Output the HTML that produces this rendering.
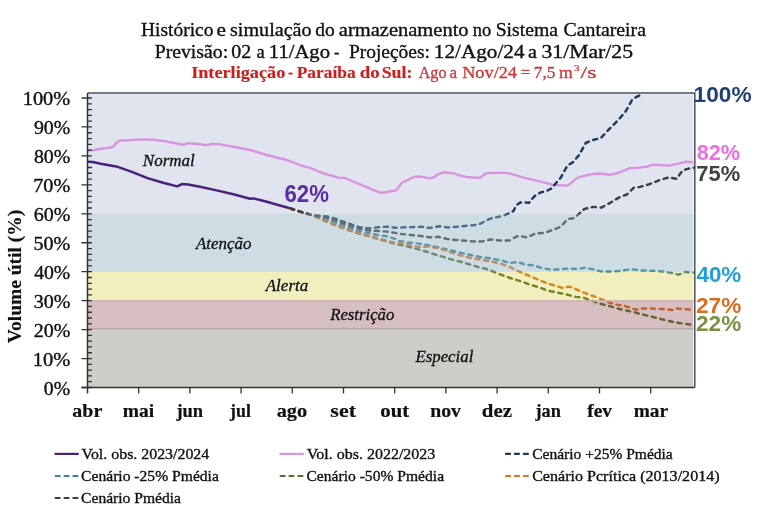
<!DOCTYPE html>
<html><head><meta charset="utf-8"><style>
html,body{margin:0;padding:0;background:#fff;}
svg{display:block;}
.s{font-family:"Liberation Serif",serif;}
.a{font-family:"Liberation Sans",sans-serif;font-weight:bold;}
</style></head><body>
<svg width="768" height="509" viewBox="0 0 768 509">
<rect x="0" y="0" width="768" height="509" fill="#fff"/>
<rect x="87.5" y="94.2" width="605.8" height="119.49999999999999" fill="#dfe4ee"/>
<polyline points="88.1,150.5 94.4,150.0 100.6,148.8 106.9,148.1 113.1,146.9 116.2,143.0 119.4,140.6 128.8,140.2 141.2,139.4 153.8,139.7 166.2,141.4 178.8,144.0 183.4,144.8 188.1,143.2 194.4,143.7 200.0,144.3 206.7,145.2 211.7,144.0 218.4,144.1 233.4,146.7 250.1,150.0 266.8,155.0 286.8,160.0 300.2,165.1 310.0,167.9 318.6,171.5 327.2,174.6 332.9,175.8 338.7,177.9 344.4,177.9 353.0,181.5 364.4,186.1 373.0,189.8 380.2,192.7 385.9,192.3 390.2,191.3 396.0,190.4 401.7,183.0 408.9,179.4 414.3,176.9 420.0,176.5 424.3,177.2 430.1,178.4 434.4,177.2 437.2,174.6 444.4,172.2 453.0,173.2 458.7,175.1 465.9,176.9 473.0,177.5 480.2,177.9 485.9,173.2 493.1,172.9 504.6,172.9 510.3,173.6 523.5,177.6 542.2,181.8 552.3,184.9 567.5,185.6 577.7,177.6 591.2,174.2 600.0,173.5 609.8,174.8 619.6,172.5 629.5,168.2 639.3,167.6 647.2,166.6 653.0,164.6 658.9,165.0 668.8,165.6 678.6,163.6 686.4,161.7 693.3,162.3" fill="none" stroke="#d994df" stroke-width="2.4" stroke-linejoin="round"/>
<polyline points="88.1,161.7 92.8,162.0 100.6,163.8 116.2,166.4 131.9,171.9 147.5,178.1 163.1,182.8 177.2,186.4 181.9,184.1 188.1,184.4 200.0,186.8 216.7,190.4 233.4,194.3 250.1,198.8 253.4,198.4 266.8,201.8 283.5,206.5 289.2,208.0" fill="none" stroke="#47237f" stroke-width="2.5" stroke-linejoin="round"/>
<polyline points="290.1,208.2 292.0,209.0 301.0,211.9 309.5,214.5 313.0,215.4 318.0,215.7 327.0,216.4 335.0,218.5 343.5,221.7 352.0,224.7 360.0,227.3 369.0,228.4 378.0,227.2 387.0,226.7 395.0,227.7 404.0,227.4 410.6,227.1 421.2,226.8 430.0,228.0 438.9,226.2 447.7,227.5 456.6,226.8 467.2,225.7 476.0,225.0 480.0,223.8 484.2,221.7 490.4,218.5 497.7,217.0 504.0,215.4 509.2,213.3 513.3,211.2 516.5,205.0 520.6,202.4 524.8,202.4 529.0,202.9 532.1,198.8 535.2,195.6 540.4,192.5 546.7,190.9 551.9,188.3 555.0,184.2 560.8,177.6 567.3,165.7 572.7,162.4 579.2,154.9 585.7,143.0 592.2,140.2 600.8,138.0 607.3,131.1 613.8,124.6 619.6,118.5 625.5,111.6 629.2,105.3 632.2,99.6 636.5,96.9 642.6,94.0" fill="none" stroke="#1f3a60" stroke-width="2.45" stroke-dasharray="4.15 4.65" stroke-linecap="round" stroke-linejoin="round"/>
<polyline points="290.1,208.2 292.0,209.0 301.0,211.9 309.5,214.5 313.0,215.4 318.0,216.9 327.0,219.8 335.0,222.6 343.5,225.8 352.0,228.8 360.0,231.4 369.0,233.1 378.0,235.2 387.0,236.3 395.0,238.9 400.0,241.3 410.6,242.7 421.2,243.9 435.3,246.6 446.0,249.2 456.6,251.9 470.7,255.0 481.3,257.2 491.9,258.6 502.5,260.7 510.0,263.1 517.9,262.0 525.7,264.7 533.6,265.4 541.4,267.8 549.3,269.4 558.7,269.4 566.6,268.6 576.0,268.9 585.5,267.8 593.3,269.4 601.2,271.4 609.4,271.5 618.9,271.0 631.4,269.2 640.9,270.4 651.9,270.7 662.9,271.5 672.3,273.1 678.6,274.7 684.9,272.0 693.6,272.6" fill="none" stroke="#31859c" stroke-width="2.45" stroke-dasharray="4.15 4.65" stroke-linecap="round" stroke-linejoin="round"/>
<polyline points="290.1,208.2 292.0,209.0 301.0,211.9 309.5,214.5 313.0,215.4 318.0,217.7 327.0,221.8 335.0,225.1 343.5,228.3 352.0,231.3 360.0,233.9 369.0,236.2 378.0,239.0 387.0,241.5 395.0,243.8 404.0,245.6 410.6,247.4 421.2,250.1 435.3,254.5 449.5,258.9 463.6,262.5 477.8,266.9 488.4,269.5 499.0,274.0 510.0,278.0 519.4,280.8 528.9,284.3 538.3,287.1 547.7,290.6 557.2,292.5 566.6,294.5 576.0,296.9 583.9,297.7 591.8,300.8 601.2,304.0 609.4,306.1 620.4,309.2 631.4,311.6 642.5,314.4 653.5,317.1 662.9,319.5 672.3,321.8 681.8,323.4 693.6,325.0" fill="none" stroke="#5a6d2c" stroke-width="2.45" stroke-dasharray="4.15 4.65" stroke-linecap="round" stroke-linejoin="round"/>
<polyline points="290.1,208.2 292.0,209.0 301.0,211.9 309.5,214.5 313.0,215.4 318.0,217.5 327.0,221.4 335.0,224.6 343.5,227.8 352.0,230.8 360.0,233.4 369.0,235.7 378.0,238.3 387.0,240.9 395.0,243.0 404.0,242.5 410.6,245.7 417.7,246.9 428.3,246.6 438.9,248.3 449.5,251.9 460.1,255.4 470.7,258.0 481.3,259.8 491.9,261.6 502.5,264.2 511.6,267.8 519.4,271.7 528.9,275.7 538.3,279.6 547.7,283.5 557.2,286.2 561.9,287.8 569.7,286.7 579.2,290.6 588.6,294.5 598.1,297.7 606.3,301.4 615.7,304.5 625.2,306.1 636.2,309.7 642.5,308.5 651.9,308.5 659.7,308.9 666.0,309.2 672.3,310.0 677.0,308.5 684.9,309.2 693.6,310.0" fill="none" stroke="#e07020" stroke-width="2.45" stroke-dasharray="4.15 4.65" stroke-linecap="round" stroke-linejoin="round"/>
<polyline points="290.1,208.2 292.0,209.0 301.0,211.9 309.5,214.5 313.0,215.4 318.0,216.3 327.0,217.9 335.0,220.3 343.5,223.5 352.0,226.5 360.0,229.1 369.0,230.5 378.0,231.0 387.0,231.6 395.0,232.9 400.0,233.8 410.6,235.0 421.2,236.0 430.0,237.4 438.9,236.8 447.7,239.1 456.6,240.0 467.2,240.9 476.0,241.6 483.0,241.3 490.1,239.5 499.0,240.4 509.6,240.4 514.9,237.4 518.5,235.7 526.9,237.4 535.4,233.5 543.9,233.0 552.3,230.1 560.8,226.7 567.5,219.1 574.3,218.2 584.5,208.9 592.9,206.9 601.4,207.6 609.9,203.0 618.3,197.9 626.8,194.5 633.6,187.8 640.0,186.9 649.1,184.3 658.9,180.3 668.8,177.4 676.6,178.8 682.5,170.5 688.4,168.6 694.3,167.6" fill="none" stroke="#3d3d3d" stroke-width="2.45" stroke-dasharray="4.15 4.65" stroke-linecap="round" stroke-linejoin="round"/>
<rect x="87.5" y="213.7" width="605.8" height="58.10000000000002" fill="rgb(142,177,192)" fill-opacity="0.44"/>
<rect x="87.5" y="271.8" width="605.8" height="28.19999999999999" fill="rgb(203,191,0)" fill-opacity="0.25"/>
<rect x="87.5" y="300.0" width="605.8" height="29.69999999999999" fill="rgb(140,69,75)" fill-opacity="0.35"/>
<rect x="87.5" y="329.7" width="605.8" height="57.80000000000001" fill="#cfcdc8"/>
<line x1="87.5" y1="328.8" x2="693.3" y2="328.8" stroke="#b6a8a8" stroke-width="1.6"/>
<line x1="87.5" y1="301.0" x2="693.3" y2="301.0" stroke="#cdb5b3" stroke-width="1.6"/>
<path d="M87.5,93.0 H694.8 V387.5" fill="none" stroke="#4b5058" stroke-width="1.5"/>
<path d="M87.5,93.0 V393.5 M81.5,387.5 H694.8" fill="none" stroke="#333" stroke-width="1.5"/>
<path d="M81.5,387.50 H92.0 M87.5,381.71 H92.0 M87.5,375.92 H92.0 M87.5,370.13 H92.0 M87.5,364.34 H92.0 M81.5,358.55 H92.0 M87.5,352.76 H92.0 M87.5,346.97 H92.0 M87.5,341.18 H92.0 M87.5,335.39 H92.0 M81.5,329.60 H92.0 M87.5,323.81 H92.0 M87.5,318.02 H92.0 M87.5,312.23 H92.0 M87.5,306.44 H92.0 M81.5,300.65 H92.0 M87.5,294.86 H92.0 M87.5,289.07 H92.0 M87.5,283.28 H92.0 M87.5,277.49 H92.0 M81.5,271.70 H92.0 M87.5,265.91 H92.0 M87.5,260.12 H92.0 M87.5,254.33 H92.0 M87.5,248.54 H92.0 M81.5,242.75 H92.0 M87.5,236.96 H92.0 M87.5,231.17 H92.0 M87.5,225.38 H92.0 M87.5,219.59 H92.0 M81.5,213.80 H92.0 M87.5,208.01 H92.0 M87.5,202.22 H92.0 M87.5,196.43 H92.0 M87.5,190.64 H92.0 M81.5,184.85 H92.0 M87.5,179.06 H92.0 M87.5,173.27 H92.0 M87.5,167.48 H92.0 M87.5,161.69 H92.0 M81.5,155.90 H92.0 M87.5,150.11 H92.0 M87.5,144.32 H92.0 M87.5,138.53 H92.0 M87.5,132.74 H92.0 M81.5,126.95 H92.0 M87.5,121.16 H92.0 M87.5,115.37 H92.0 M87.5,109.58 H92.0 M87.5,103.79 H92.0 M81.5,98.00 H92.0 M138.70,387.5 V393.5 M189.90,387.5 V393.5 M241.10,387.5 V393.5 M292.30,387.5 V393.5 M343.50,387.5 V393.5 M394.70,387.5 V393.5 M445.90,387.5 V393.5 M497.10,387.5 V393.5 M548.30,387.5 V393.5 M599.50,387.5 V393.5 M650.70,387.5 V393.5" fill="none" stroke="#333" stroke-width="1.3"/>
<line x1="54.5" y1="453.9" x2="78.8" y2="453.9" stroke="#47237f" stroke-width="2.2"/>
<line x1="279.5" y1="453.9" x2="303.8" y2="453.9" stroke="#d994df" stroke-width="2.2"/>
<line x1="506.0" y1="453.9" x2="528.9" y2="453.9" stroke="#1f3a60" stroke-width="2.2" stroke-linecap="round" stroke-dasharray="4.1 4.8"/>
<line x1="55.6" y1="476" x2="78.5" y2="476" stroke="#31859c" stroke-width="2.2" stroke-linecap="round" stroke-dasharray="4.1 4.8"/>
<line x1="280.6" y1="476" x2="303.5" y2="476" stroke="#5a6d2c" stroke-width="2.2" stroke-linecap="round" stroke-dasharray="4.1 4.8"/>
<line x1="506.0" y1="476" x2="528.9" y2="476" stroke="#e07020" stroke-width="2.2" stroke-linecap="round" stroke-dasharray="4.1 4.8"/>
<line x1="55.6" y1="498" x2="78.5" y2="498" stroke="#3d3d3d" stroke-width="2.2" stroke-linecap="round" stroke-dasharray="4.1 4.8"/>
<text x="140.99" y="36.2" class="s" font-size="19" fill="#111"  stroke="#111" stroke-width="0.35" textLength="72.44" lengthAdjust="spacingAndGlyphs">Histórico</text>
<text x="216.41" y="36.2" class="s" font-size="19" fill="#111"  stroke="#111" stroke-width="0.35" textLength="9.40" lengthAdjust="spacingAndGlyphs">e</text>
<text x="230.05" y="36.2" class="s" font-size="19" fill="#111"  stroke="#111" stroke-width="0.35" textLength="81.51" lengthAdjust="spacingAndGlyphs">simulação</text>
<text x="315.39" y="36.2" class="s" font-size="19" fill="#111"  stroke="#111" stroke-width="0.35" textLength="19.43" lengthAdjust="spacingAndGlyphs">do</text>
<text x="338.85" y="36.2" class="s" font-size="19" fill="#111"  stroke="#111" stroke-width="0.35" textLength="129.76" lengthAdjust="spacingAndGlyphs">armazenamento</text>
<text x="472.81" y="36.2" class="s" font-size="19" fill="#111"  stroke="#111" stroke-width="0.35" textLength="18.47" lengthAdjust="spacingAndGlyphs">no</text>
<text x="495.66" y="36.2" class="s" font-size="19" fill="#111"  stroke="#111" stroke-width="0.35" textLength="62.31" lengthAdjust="spacingAndGlyphs">Sistema</text>
<text x="563.57" y="36.2" class="s" font-size="19" fill="#111"  stroke="#111" stroke-width="0.35" textLength="82.36" lengthAdjust="spacingAndGlyphs">Cantareira</text>
<text x="154.68" y="57.7" class="s" font-size="19" fill="#111"  stroke="#111" stroke-width="0.35" textLength="73.50" lengthAdjust="spacingAndGlyphs">Previsão:</text>
<text x="231.26" y="57.7" class="s" font-size="19" fill="#111"  stroke="#111" stroke-width="0.35" textLength="19.99" lengthAdjust="spacingAndGlyphs">02</text>
<text x="256.42" y="57.7" class="s" font-size="19" fill="#111"  stroke="#111" stroke-width="0.35" textLength="8.21" lengthAdjust="spacingAndGlyphs">a</text>
<text x="268.86" y="57.7" class="s" font-size="19" fill="#111"  stroke="#111" stroke-width="0.35" textLength="61.09" lengthAdjust="spacingAndGlyphs">11/Ago</text>
<text x="334.12" y="57.7" class="s" font-size="19" fill="#111"  stroke="#111" stroke-width="0.35" textLength="5.41" lengthAdjust="spacingAndGlyphs">-</text>
<text x="348.99" y="57.7" class="s" font-size="19" fill="#111"  stroke="#111" stroke-width="0.35" textLength="80.89" lengthAdjust="spacingAndGlyphs">Projeções:</text>
<text x="433.81" y="57.7" class="s" font-size="19" fill="#111"  stroke="#111" stroke-width="0.35" textLength="90.80" lengthAdjust="spacingAndGlyphs">12/Ago/24</text>
<text x="527.97" y="57.7" class="s" font-size="19" fill="#111"  stroke="#111" stroke-width="0.35" textLength="8.88" lengthAdjust="spacingAndGlyphs">a</text>
<text x="541.46" y="57.7" class="s" font-size="19" fill="#111"  stroke="#111" stroke-width="0.35" textLength="91.57" lengthAdjust="spacingAndGlyphs">31/Mar/25</text>
<text x="191.16" y="77.6" class="s" font-size="17" fill="#d01c1c" font-weight="bold" stroke="#d01c1c" stroke-width="0.15" textLength="94.10" lengthAdjust="spacingAndGlyphs">Interligação</text>
<text x="287.97" y="77.6" class="s" font-size="17" fill="#d01c1c" font-weight="bold" stroke="#d01c1c" stroke-width="0.15" textLength="5.02" lengthAdjust="spacingAndGlyphs">-</text>
<text x="296.70" y="77.6" class="s" font-size="17" fill="#d01c1c" font-weight="bold" stroke="#d01c1c" stroke-width="0.15" textLength="59.02" lengthAdjust="spacingAndGlyphs">Paraíba</text>
<text x="359.83" y="77.6" class="s" font-size="17" fill="#d01c1c" font-weight="bold" stroke="#d01c1c" stroke-width="0.15" textLength="20.01" lengthAdjust="spacingAndGlyphs">do</text>
<text x="381.65" y="77.6" class="s" font-size="17" fill="#d01c1c" font-weight="bold" stroke="#d01c1c" stroke-width="0.15" textLength="30.71" lengthAdjust="spacingAndGlyphs">Sul:</text>
<text x="418.71" y="77.6" class="s" font-size="17" fill="#d03434"  stroke="#d03434" stroke-width="0.3" textLength="27.83" lengthAdjust="spacingAndGlyphs">Ago</text>
<text x="449.50" y="77.6" class="s" font-size="17" fill="#d03434"  stroke="#d03434" stroke-width="0.3" textLength="7.55" lengthAdjust="spacingAndGlyphs">a</text>
<text x="462.17" y="77.6" class="s" font-size="17" fill="#d03434"  stroke="#d03434" stroke-width="0.3" textLength="54.85" lengthAdjust="spacingAndGlyphs">Nov/24</text>
<text x="520.72" y="77.6" class="s" font-size="17" fill="#d03434"  stroke="#d03434" stroke-width="0.3" textLength="9.35" lengthAdjust="spacingAndGlyphs">=</text>
<text x="533.78" y="77.6" class="s" font-size="17" fill="#d03434"  stroke="#d03434" stroke-width="0.3" textLength="21.58" lengthAdjust="spacingAndGlyphs">7,5</text>
<text x="559.08" y="77.6" class="s" font-size="17" fill="#d03434"  stroke="#d03434" stroke-width="0.3" textLength="13.75" lengthAdjust="spacingAndGlyphs">m</text>
<text x="580.60" y="77.6" class="s" font-size="17" fill="#d03434"  stroke="#d03434" stroke-width="0.3" textLength="15.94" lengthAdjust="spacingAndGlyphs">/s</text>
<text x="574.11" y="70.8" class="s" font-size="9" fill="#d03434"  stroke="#d03434" stroke-width="0.2" textLength="5.57" lengthAdjust="spacingAndGlyphs">3</text>
<text x="142.80" y="165.9" class="s" font-size="17" fill="#111" font-style="italic" stroke="#111" stroke-width="0.3" textLength="51.96" lengthAdjust="spacingAndGlyphs">Normal</text>
<text x="195.99" y="249.4" class="s" font-size="17" fill="#111" font-style="italic" stroke="#111" stroke-width="0.3" textLength="55.40" lengthAdjust="spacingAndGlyphs">Atenção</text>
<text x="265.70" y="290.6" class="s" font-size="17" fill="#111" font-style="italic" stroke="#111" stroke-width="0.3" textLength="42.69" lengthAdjust="spacingAndGlyphs">Alerta</text>
<text x="330.20" y="319.7" class="s" font-size="17" fill="#111" font-style="italic" stroke="#111" stroke-width="0.3" textLength="64.14" lengthAdjust="spacingAndGlyphs">Restrição</text>
<text x="415.40" y="362.3" class="s" font-size="17" fill="#111" font-style="italic" stroke="#111" stroke-width="0.3" textLength="57.94" lengthAdjust="spacingAndGlyphs">Especial</text>
<text x="43.83" y="394.9" class="s" font-size="17.8" fill="#111"  stroke="#111" stroke-width="0.35" textLength="26.35" lengthAdjust="spacingAndGlyphs">0%</text>
<text x="32.76" y="365.95" class="s" font-size="17.8" fill="#111"  stroke="#111" stroke-width="0.35" textLength="37.57" lengthAdjust="spacingAndGlyphs">10%</text>
<text x="33.70" y="337.0" class="s" font-size="17.8" fill="#111"  stroke="#111" stroke-width="0.35" textLength="36.60" lengthAdjust="spacingAndGlyphs">20%</text>
<text x="33.70" y="308.04999999999995" class="s" font-size="17.8" fill="#111"  stroke="#111" stroke-width="0.35" textLength="36.60" lengthAdjust="spacingAndGlyphs">30%</text>
<text x="34.16" y="279.09999999999997" class="s" font-size="17.8" fill="#111"  stroke="#111" stroke-width="0.35" textLength="36.14" lengthAdjust="spacingAndGlyphs">40%</text>
<text x="33.47" y="250.15" class="s" font-size="17.8" fill="#111"  stroke="#111" stroke-width="0.35" textLength="36.84" lengthAdjust="spacingAndGlyphs">50%</text>
<text x="33.70" y="221.20000000000002" class="s" font-size="17.8" fill="#111"  stroke="#111" stroke-width="0.35" textLength="36.60" lengthAdjust="spacingAndGlyphs">60%</text>
<text x="33.24" y="192.25" class="s" font-size="17.8" fill="#111"  stroke="#111" stroke-width="0.35" textLength="37.08" lengthAdjust="spacingAndGlyphs">70%</text>
<text x="33.93" y="163.3" class="s" font-size="17.8" fill="#111"  stroke="#111" stroke-width="0.35" textLength="36.37" lengthAdjust="spacingAndGlyphs">80%</text>
<text x="33.93" y="134.35" class="s" font-size="17.8" fill="#111"  stroke="#111" stroke-width="0.35" textLength="36.37" lengthAdjust="spacingAndGlyphs">90%</text>
<text x="22.77" y="105.4" class="s" font-size="17.8" fill="#111"  stroke="#111" stroke-width="0.35" textLength="47.43" lengthAdjust="spacingAndGlyphs">100%</text>
<text x="72.34" y="417.1" class="s" font-size="18" fill="#111" font-weight="bold" stroke="#111" stroke-width="0.2" textLength="29.91" lengthAdjust="spacingAndGlyphs">abr</text>
<text x="122.87" y="417.1" class="s" font-size="18" fill="#111" font-weight="bold" stroke="#111" stroke-width="0.2" textLength="31.35" lengthAdjust="spacingAndGlyphs">mai</text>
<text x="176.41" y="417.1" class="s" font-size="18" fill="#111" font-weight="bold" stroke="#111" stroke-width="0.2" textLength="26.72" lengthAdjust="spacingAndGlyphs">jun</text>
<text x="230.10" y="417.1" class="s" font-size="18" fill="#111" font-weight="bold" stroke="#111" stroke-width="0.2" textLength="20.80" lengthAdjust="spacingAndGlyphs">jul</text>
<text x="276.72" y="417.1" class="s" font-size="18" fill="#111" font-weight="bold" stroke="#111" stroke-width="0.2" textLength="30.45" lengthAdjust="spacingAndGlyphs">ago</text>
<text x="330.37" y="417.1" class="s" font-size="18" fill="#111" font-weight="bold" stroke="#111" stroke-width="0.2" textLength="25.62" lengthAdjust="spacingAndGlyphs">set</text>
<text x="380.31" y="417.1" class="s" font-size="18" fill="#111" font-weight="bold" stroke="#111" stroke-width="0.2" textLength="28.80" lengthAdjust="spacingAndGlyphs">out</text>
<text x="430.26" y="417.1" class="s" font-size="18" fill="#111" font-weight="bold" stroke="#111" stroke-width="0.2" textLength="30.75" lengthAdjust="spacingAndGlyphs">nov</text>
<text x="481.87" y="417.1" class="s" font-size="18" fill="#111" font-weight="bold" stroke="#111" stroke-width="0.2" textLength="30.08" lengthAdjust="spacingAndGlyphs">dez</text>
<text x="535.50" y="417.1" class="s" font-size="18" fill="#111" font-weight="bold" stroke="#111" stroke-width="0.2" textLength="25.41" lengthAdjust="spacingAndGlyphs">jan</text>
<text x="587.18" y="417.1" class="s" font-size="18" fill="#111" font-weight="bold" stroke="#111" stroke-width="0.2" textLength="24.80" lengthAdjust="spacingAndGlyphs">fev</text>
<text x="633.67" y="417.1" class="s" font-size="18" fill="#111" font-weight="bold" stroke="#111" stroke-width="0.2" textLength="34.34" lengthAdjust="spacingAndGlyphs">mar</text>
<text x="81.49" y="458.7" class="s" font-size="15" fill="#111"  stroke="#111" stroke-width="0.35" textLength="127.79" lengthAdjust="spacingAndGlyphs">Vol. obs. 2023/2024</text>
<text x="306.89" y="458.7" class="s" font-size="15" fill="#111"  stroke="#111" stroke-width="0.35" textLength="128.42" lengthAdjust="spacingAndGlyphs">Vol. obs. 2022/2023</text>
<text x="532.18" y="458.7" class="s" font-size="15" fill="#111"  stroke="#111" stroke-width="0.35" textLength="140.56" lengthAdjust="spacingAndGlyphs">Cenário +25% Pmédia</text>
<text x="81.08" y="480.7" class="s" font-size="15" fill="#111"  stroke="#111" stroke-width="0.35" textLength="137.80" lengthAdjust="spacingAndGlyphs">Cenário -25% Pmédia</text>
<text x="306.48" y="480.7" class="s" font-size="15" fill="#111"  stroke="#111" stroke-width="0.35" textLength="137.60" lengthAdjust="spacingAndGlyphs">Cenário -50% Pmédia</text>
<text x="532.16" y="480.7" class="s" font-size="15" fill="#111"  stroke="#111" stroke-width="0.35" textLength="187.45" lengthAdjust="spacingAndGlyphs">Cenário Pcrítica (2013/2014)</text>
<text x="81.08" y="502.7" class="s" font-size="15" fill="#111"  stroke="#111" stroke-width="0.35" textLength="99.96" lengthAdjust="spacingAndGlyphs">Cenário Pmédia</text>
<text x="693.63" y="101.6" class="a" font-size="21.5" fill="#1f3f76"   textLength="57.90" lengthAdjust="spacingAndGlyphs">100%</text>
<text x="696.69" y="160.4" class="a" font-size="21.5" fill="#ea6ee6"   textLength="43.45" lengthAdjust="spacingAndGlyphs">82%</text>
<text x="696.28" y="180.5" class="a" font-size="21.5" fill="#424242"   textLength="43.87" lengthAdjust="spacingAndGlyphs">75%</text>
<text x="696.48" y="281.8" class="a" font-size="21.5" fill="#1fa0dc"   textLength="44.78" lengthAdjust="spacingAndGlyphs">40%</text>
<text x="696.06" y="313.0" class="a" font-size="21.5" fill="#dc6c1e"   textLength="45.21" lengthAdjust="spacingAndGlyphs">27%</text>
<text x="696.06" y="331.3" class="a" font-size="21.5" fill="#77933c"   textLength="45.21" lengthAdjust="spacingAndGlyphs">22%</text>
<text x="284.53" y="202.3" class="a" font-size="23" fill="#5b2e9e"   textLength="44.38" lengthAdjust="spacingAndGlyphs">62%</text>
<text x="-0.20" y="0" class="s" font-size="19" font-weight="bold" fill="#111" stroke="#111" stroke-width="0.15" transform="translate(20.6,343) rotate(-90)" textLength="133.42" lengthAdjust="spacingAndGlyphs">Volume útil (%)</text>
</svg></body></html>
